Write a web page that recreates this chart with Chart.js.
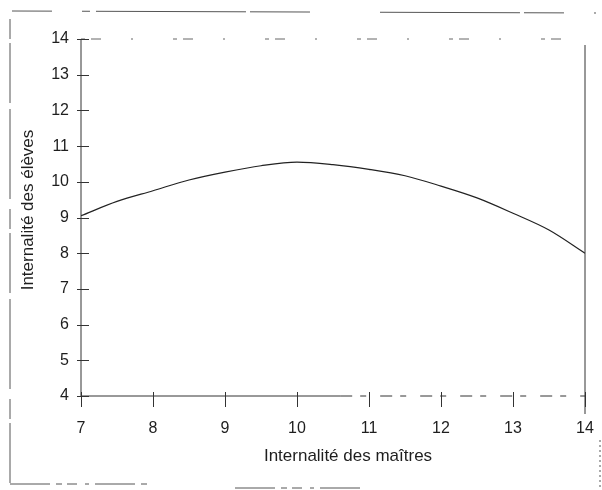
<!DOCTYPE html>
<html>
<head>
<meta charset="utf-8">
<title>Internalité</title>
<script src="https://cdn.jsdelivr.net/npm/chart.js@4/dist/chart.umd.min.js"></script>
<style>
  html, body { margin: 0; padding: 0; background: #fff; }
  #wrap { width: 602px; height: 490px; }
</style>
</head>
<body>
<div id="wrap"><canvas id="myChart" width="602" height="490"></canvas></div>
<script>
// ===== Data =====
const maitres = [7, 7.5, 8, 8.5, 9, 9.5, 10, 10.5, 11, 11.5, 12, 12.5, 13, 13.5, 14];   // x: Internalité des maîtres
const eleves  = [9.05, 9.45, 9.75, 10.05, 10.27, 10.45, 10.55, 10.48, 10.35, 10.17, 9.88, 9.55, 9.12, 8.65, 8.0]; // y: Internalité des élèves
const xTicks = [7, 8, 9, 10, 11, 12, 13, 14];
const yTicks = [4, 5, 6, 7, 8, 9, 10, 11, 12, 13, 14];
const xTitle = "Internalité des maîtres";
const yTitle = "Internalité des élèves";

const FONT = '"Liberation Sans", Arial, Helvetica, sans-serif';
const INK = "#1e1e1e";

// ===== Frame, axes, tick marks and titles (scanned look) =====
const framePlugin = {
  id: "frame",
  afterDraw(chart) {
    const {ctx, chartArea: a, scales: {x, y}} = chart;
    ctx.save();

    // outer figure border, broken like the scan
    ctx.strokeStyle = "#555";
    ctx.lineWidth = 1;
    ctx.setLineDash([60, 4, 20, 10, 90, 6]);
    ctx.beginPath();
    ctx.moveTo(10, 483); ctx.lineTo(10, 11);
    ctx.stroke();
    ctx.setLineDash([40, 30, 8, 6, 150, 4, 60, 70, 140, 4]);
    ctx.beginPath();
    ctx.moveTo(12, 11); ctx.lineTo(596, 13);
    ctx.stroke();
    ctx.setLineDash([40, 6, 6, 5, 10, 8, 4, 6]);
    ctx.beginPath();
    ctx.moveTo(10, 484); ctx.lineTo(150, 484);
    ctx.moveTo(235, 488); ctx.lineTo(360, 488);
    ctx.stroke();
    ctx.setLineDash([2, 3]);
    ctx.beginPath();
    ctx.moveTo(600, 440); ctx.lineTo(600, 490);
    ctx.stroke();

    // plot box
    ctx.strokeStyle = "#333";
    ctx.setLineDash([]);
    ctx.beginPath();
    ctx.moveTo(a.left, a.top); ctx.lineTo(a.left, a.bottom);     // y axis
    ctx.lineTo(x.getPixelForValue(10.6), a.bottom);               // x axis, solid part
    ctx.moveTo(a.right, a.top + 6); ctx.lineTo(a.right, a.bottom + 18); // right side
    ctx.stroke();
    ctx.setLineDash([12, 8, 6, 14]);
    ctx.beginPath();
    ctx.moveTo(x.getPixelForValue(10.6), a.bottom); ctx.lineTo(a.right, a.bottom);
    ctx.stroke();
    ctx.strokeStyle = "#666";
    ctx.setLineDash([4, 6, 10, 30, 2, 40]);
    ctx.beginPath();
    ctx.moveTo(a.left, a.top); ctx.lineTo(a.right, a.top);
    ctx.stroke();

    // tick marks
    ctx.strokeStyle = "#333";
    ctx.setLineDash([]);
    ctx.beginPath();
    yTicks.forEach(v => {
      const py = Math.round(y.getPixelForValue(v)) + 0.5;
      ctx.moveTo(a.left - 4, py); ctx.lineTo(a.left + 8, py);
    });
    xTicks.forEach(v => {
      const px = Math.round(x.getPixelForValue(v)) + 0.5;
      ctx.moveTo(px, a.bottom - 4); ctx.lineTo(px, a.bottom + 11);
    });
    ctx.stroke();

    // axis titles
    ctx.fillStyle = INK;
    ctx.font = "17px " + FONT;
    ctx.textAlign = "center";
    ctx.textBaseline = "middle";
    ctx.fillText(xTitle, 348, 456);
    ctx.translate(28, 210);
    ctx.rotate(-Math.PI / 2);
    ctx.fillText(yTitle, 0, 0);
    ctx.restore();
  }
};

// ===== Chart.js Initialization =====
let ctx = document.getElementById("myChart").getContext("2d");

let chart = new Chart(ctx, {
  type: "line",
  data: {
    datasets: [{
      label: yTitle,
      data: maitres.map((m, i) => ({x: m, y: eleves[i]})),
      borderColor: "#222",
      borderWidth: 1.2,
      pointRadius: 0,
      cubicInterpolationMode: "monotone",
      fill: false
    }]
  },
  options: {
    responsive: false,
    animation: false,
    layout: { padding: { top: 39, right: 17, bottom: 0, left: 0 } },
    plugins: {
      legend: { display: false },
      tooltip: { enabled: false }
    },
    scales: {
      x: {
        type: "linear",
        min: 7, max: 14,
        afterFit: s => { s.height = 94; s.paddingLeft = 0; s.paddingRight = 0; },
        afterBuildTicks: s => { s.ticks = xTicks.map(v => ({value: v})); },
        grid: { display: false, drawTicks: false },
        border: { display: false },
        ticks: { color: INK, padding: 23, font: { family: FONT, size: 16 } }
      },
      y: {
        min: 4, max: 14,
        afterFit: s => { s.width = 81; s.paddingTop = 0; s.paddingBottom = 0; },
        afterBuildTicks: s => { s.ticks = yTicks.map(v => ({value: v})); },
        grid: { display: false, drawTicks: false },
        border: { display: false },
        ticks: { color: INK, padding: 12, font: { family: FONT, size: 16 } }
      }
    }
  },
  plugins: [framePlugin]
});
</script>
</body>
</html>
